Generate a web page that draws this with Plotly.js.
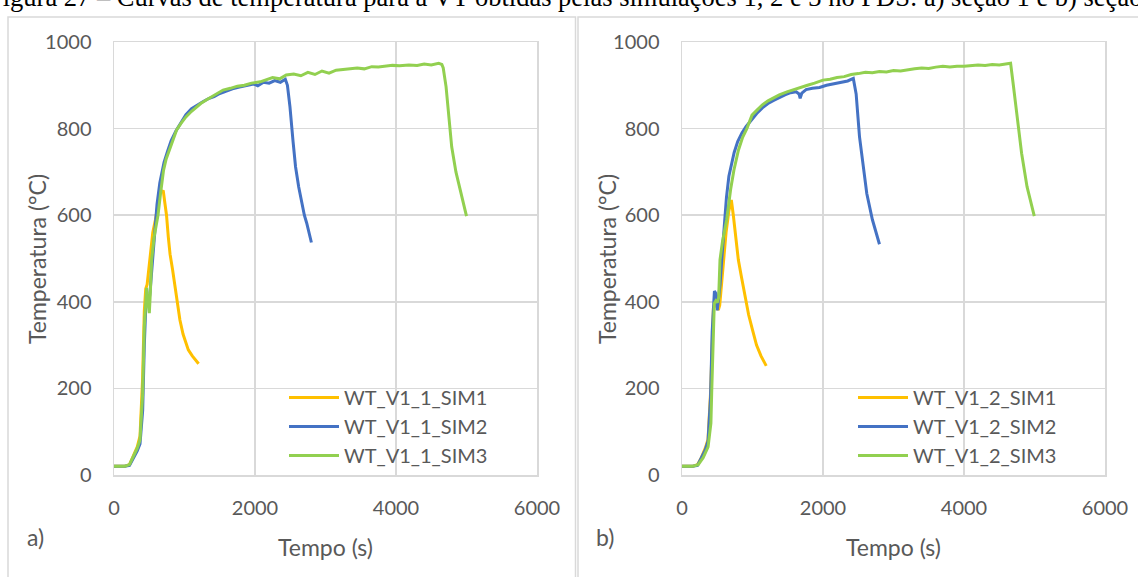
<!DOCTYPE html>
<html>
<head>
<meta charset="utf-8">
<script src="https://cdn.plot.ly/plotly-3.0.1.min.js"></script>
<style>
html,body{margin:0;padding:0;background:#fff;}
#chart{width:1138px;height:577px;}
</style>
</head>
<body>
<div id="chart"></div>
<script>
// ---------- data ----------
const captionText = "Figura 27 – Curvas de temperatura para a VT obtidas pelas simulações 1, 2 e 3 no FDS: a) seção 1 e b) seção 2";
const namesA = ["WT_V1_1_SIM1", "WT_V1_1_SIM2", "WT_V1_1_SIM3"];
const namesB = ["WT_V1_2_SIM1", "WT_V1_2_SIM2", "WT_V1_2_SIM3"];
const xTickVals = [0, 2000, 4000, 6000];
const yTickVals = [0, 200, 400, 600, 800, 1000];
const xTitle = "Tempo (s)";
const yTitle = "Temperatura (°C)";
const panelLabels = ["a)", "b)"];

// Panel a) section 1
const a_t1 = [0,150,220,274,330,369,405,430,450,470,490,515,550,587,620,651,680,700,720,745,770,795,830,855,895,935,980,1054,1110,1160,1200];
const a_T1 = [20,20,24,45,65,90,220,380,430,440,470,512,560,589,620,651,656,655,630,600,550,510,475,445,402,358,325,289,275,266,257];

const a_t2 = [0,150,220,274,330,369,407,430,450,470,490,510,540,575,610,650,680,710,760,810,880,950,1020,1100,1180,1260,1350,1420,1500,1580,1680,1780,1880,1980,2040,2120,2200,2280,2360,2430,2460,2496,2540,2575,2620,2654,2700,2733,2770,2800];
const a_T2 = [20,20,22,38,56,72,150,300,385,405,392,420,480,560,625,675,700,722,748,772,795,815,832,846,855,862,870,874,881,886,892,896,900,903,899,907,905,911,907,914,900,850,770,712,665,635,600,582,555,537];

const a_t3 = [0,150,220,274,330,369,407,430,450,463,480,501,515,534,570,624,660,703,740,782,835,888,950,1020,1100,1170,1230,1320,1400,1480,1547,1650,1750,1850,1950,2074,2150,2250,2350,2443,2550,2650,2750,2850,2950,3050,3150,3300,3450,3550,3656,3750,3850,3950,4050,4183,4300,4400,4500,4605,4650,4670,4710,4750,4790,4850,4920,4960,5000];
const a_T3 = [20,20,24,42,62,81,189,342,420,432,400,374,420,497,550,600,650,704,730,750,775,797,812,827,840,850,858,867,875,882,889,893,898,900,905,908,912,918,915,924,926,922,930,925,933,928,935,937,940,938,943,942,944,946,945,947,946,949,947,951,948,940,897,830,758,700,651,625,598];

// Panel b) section 2
const b_t1 = [0,150,220,274,330,369,405,428,445,470,495,515,535,560,590,625,665,700,728,762,799,840,895,945,1000,1057,1120,1160,1195];
const b_T1 = [20,20,24,40,62,82,190,340,385,398,390,381,392,440,500,560,610,635,600,550,497,460,415,370,335,300,275,262,252];

const b_t2 = [0,150,220,274,330,369,405,428,445,460,478,490,500,520,540,565,600,630,665,700,740,790,850,910,980,1060,1140,1220,1300,1380,1460,1540,1620,1660,1676,1700,1760,1850,1950,2050,2150,2250,2350,2430,2470,2518,2580,2621,2700,2750,2801];
const b_T2 = [20,20,22,38,58,78,180,330,400,425,420,395,380,410,440,500,580,640,690,720,745,770,790,805,820,835,848,858,865,872,878,883,885,880,870,882,890,893,895,900,903,906,910,916,880,781,700,650,590,560,533];

const b_t3 = [0,150,230,300,370,410,421,444,458,480,500,520,539,575,633,690,736,800,860,920,993,1060,1140,1220,1300,1380,1489,1580,1680,1780,1880,2000,2100,2200,2300,2400,2500,2600,2700,2800,2900,3000,3100,3200,3300,3400,3500,3600,3700,3800,3900,4000,4100,4200,4300,4400,4500,4600,4661,4700,4738,4817,4894,4950,4997];
const b_T3 = [20,20,24,40,65,120,189,343,396,402,398,410,497,540,589,660,704,750,780,800,831,842,855,864,872,878,885,890,896,900,905,912,914,918,920,925,927,930,929,932,931,934,933,936,938,940,939,942,944,942,944,944,946,947,946,948,947,950,951,900,851,743,666,630,598];

const seriesColors = ["#FFC000", "#4472C4", "#92D050"];

// ---------- layout helpers (pixel -> paper) ----------
const W = 1138, H = 577;
const px = v => v / W;
const py = v => 1 - v / H;
const FONT = "Lato, 'Open Sans', sans-serif";
const GREY = "#595959";
const GRID = "#d9d9d9";

function mk(t, T, name, color, xa, ya, lg) {
  return {x: t, y: T, name: name, type: "scatter", mode: "lines",
          line: {color: color, width: 3}, xaxis: xa, yaxis: ya, legend: lg,
          hoverinfo: "skip"};
}

const traces = [
  mk(a_t1, a_T1, namesA[0], seriesColors[0], "x", "y", "legend"),
  mk(a_t2, a_T2, namesA[1], seriesColors[1], "x", "y", "legend"),
  mk(a_t3, a_T3, namesA[2], seriesColors[2], "x", "y", "legend"),
  mk(b_t1, b_T1, namesB[0], seriesColors[0], "x2", "y2", "legend2"),
  mk(b_t2, b_T2, namesB[1], seriesColors[1], "x2", "y2", "legend2"),
  mk(b_t3, b_T3, namesB[2], seriesColors[2], "x2", "y2", "legend2")
];

function xax(dom, anchor) {
  return {domain: dom, anchor: anchor, range: [0, 6000], tickvals: xTickVals,
          showgrid: true, gridcolor: GRID, gridwidth: 1.5,
          zeroline: false, showline: true, linecolor: GRID, linewidth: 1.5, mirror: true,
          ticks: "outside", ticklen: 14, tickcolor: "rgba(0,0,0,0)",
          tickfont: {family: FONT, size: 20, color: GREY}, fixedrange: true};
}
function yax(dom, anchor) {
  return {domain: dom, anchor: anchor, range: [0, 1000], tickvals: yTickVals,
          showgrid: true, gridcolor: GRID, gridwidth: 1.5,
          zeroline: false, showline: true, linecolor: GRID, linewidth: 1.5, mirror: true,
          ticks: "outside", ticklen: 17, tickcolor: "rgba(0,0,0,0)",
          tickfont: {family: FONT, size: 20, color: GREY}, fixedrange: true};
}

const yDom = [py(475), py(42)];
function legendAt(xpx) {
  return {x: px(xpx), y: py(378), xanchor: "left", yanchor: "top",
          bgcolor: "rgba(0,0,0,0)", borderwidth: 0, itemwidth: 50,
          font: {family: FONT, size: 20, color: GREY},
          itemclick: false, itemdoubleclick: false};
}

const layout = {
  width: W, height: H,
  margin: {l: 0, r: 0, t: 0, b: 0},
  paper_bgcolor: "#fff", plot_bgcolor: "#fff",
  showlegend: true,
  xaxis: xax([px(114), px(537)], "y"),
  yaxis: yax(yDom, "x"),
  xaxis2: xax([px(682), px(1105)], "y2"),
  yaxis2: yax(yDom, "x2"),
  legend: legendAt(284),
  legend2: legendAt(853),
  shapes: [
    {type: "rect", xref: "paper", yref: "paper", x0: px(8), x1: px(575.5), y0: -0.1, y1: py(17),
     line: {color: GRID, width: 1.5}, layer: "below"},
    {type: "rect", xref: "paper", yref: "paper", x0: px(578), x1: 1.05, y0: -0.1, y1: py(17),
     line: {color: GRID, width: 1.5}, layer: "below"},
    {type: "rect", xref: "paper", yref: "paper", x0: px(244), x1: px(535), y0: py(473), y1: py(386),
     fillcolor: "#fff", line: {width: 0}, layer: "between"},
    {type: "rect", xref: "paper", yref: "paper", x0: px(813), x1: px(1103), y0: py(473), y1: py(386),
     fillcolor: "#fff", line: {width: 0}, layer: "between"}
  ],
  annotations: [
    {text: captionText, xref: "paper", yref: "paper", x: px(-14), y: py(14), xanchor: "left", yanchor: "bottom",
     showarrow: false, font: {family: "'Liberation Serif', 'Times New Roman', serif", size: 26.5, color: "#000"}},
    {text: xTitle, xref: "paper", yref: "paper", x: px(325), y: py(547), xanchor: "center", yanchor: "middle",
     showarrow: false, font: {family: FONT, size: 23, color: GREY}},
    {text: xTitle, xref: "paper", yref: "paper", x: px(893), y: py(547), xanchor: "center", yanchor: "middle",
     showarrow: false, font: {family: FONT, size: 23, color: GREY}},
    {text: yTitle, xref: "paper", yref: "paper", x: px(37), y: py(259), xanchor: "center", yanchor: "middle",
     textangle: -90, showarrow: false, font: {family: FONT, size: 23, color: GREY}},
    {text: yTitle, xref: "paper", yref: "paper", x: px(607), y: py(259), xanchor: "center", yanchor: "middle",
     textangle: -90, showarrow: false, font: {family: FONT, size: 23, color: GREY}},
    {text: panelLabels[0], xref: "paper", yref: "paper", x: px(35), y: py(537), xanchor: "center", yanchor: "middle",
     showarrow: false, font: {family: FONT, size: 23, color: GREY}},
    {text: panelLabels[1], xref: "paper", yref: "paper", x: px(605), y: py(537), xanchor: "center", yanchor: "middle",
     showarrow: false, font: {family: FONT, size: 23, color: GREY}}
  ]
};

Plotly.newPlot("chart", traces, layout, {staticPlot: true, displayModeBar: false});
</script>
</body>
</html>
